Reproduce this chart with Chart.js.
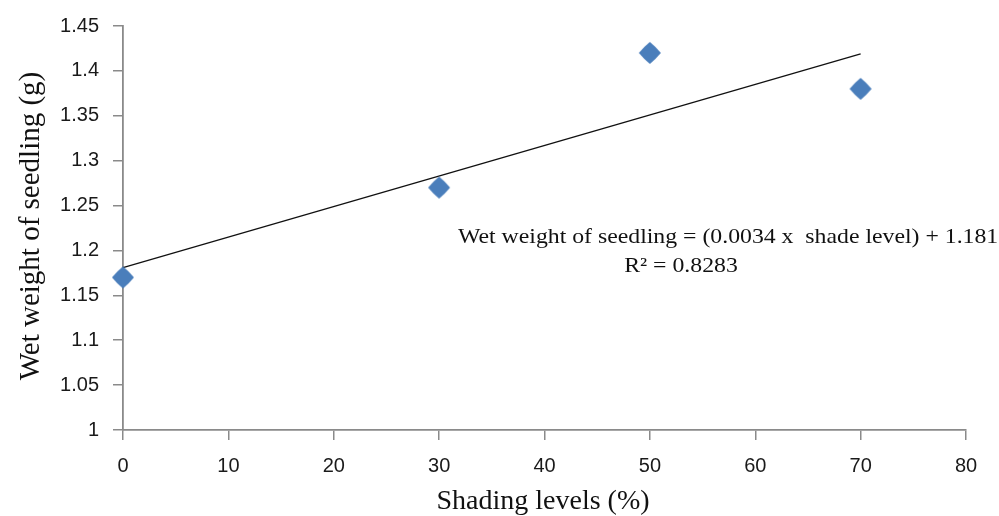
<!DOCTYPE html>
<html>
<head>
<meta charset="utf-8">
<script src="https://cdn.jsdelivr.net/npm/chart.js@4.4.1/dist/chart.umd.min.js"></script>
<style>
  html, body { margin: 0; padding: 0; background: #fff; }
  #wrap { width: 999px; height: 516px; position: relative; }
</style>
</head>
<body>
<div id="wrap"><canvas id="c"></canvas></div>
<script>
// --- DATA ---
const shadeLevels = [0, 30, 50, 70];
const wetWeight = [1.17, 1.27, 1.42, 1.38];
const trendX = [0, 70];
const trendSlope = 0.0034;
const trendIntercept = 1.181;
const equationText = 'Wet weight of seedling = (0.0034 x  shade level) + 1.181';
const r2Text = 'R\u00B2 = 0.8283';
const xTitle = 'Shading levels (%)';
const yTitle = 'Wet weight of seedling (g)';

const AXIS_GRAY = '#8a8a8a';
const SERIF = '"Liberation Serif", "Times New Roman", serif';

// Diamond marker with softly rounded sides, like the Excel one
function makeDiamond(r, color) {
    const c = document.createElement('canvas');
    c.width = c.height = r * 2 + 2;
    const g = c.getContext('2d');
    const m = r + 1;
    g.fillStyle = color;
    g.beginPath();
    g.moveTo(m, m - r);
    g.quadraticCurveTo(m + r * 0.55, m - r * 0.55, m + r, m);
    g.quadraticCurveTo(m + r * 0.55, m + r * 0.55, m, m + r);
    g.quadraticCurveTo(m - r * 0.55, m + r * 0.55, m - r, m);
    g.quadraticCurveTo(m - r * 0.55, m - r * 0.55, m, m - r);
    g.closePath();
    g.fill();
    return c;
}

// Text overlay (axis titles + regression note)
const textPlugin = {
    id: 'texts',
    afterDraw(chart) {
        const ctx = chart.ctx;
        ctx.save();
        ctx.fillStyle = '#111';
        ctx.textAlign = 'center';
        ctx.textBaseline = 'middle';
        ctx.font = '28px ' + SERIF;
        ctx.fillText(xTitle, 543, 502);

        ctx.font = '29px ' + SERIF;
        ctx.translate(31, 226);
        ctx.rotate(-Math.PI / 2);
        ctx.fillText(yTitle, 0, 0);
        ctx.restore();

        ctx.save();
        ctx.fillStyle = '#111';
        ctx.font = '22px ' + SERIF;
        ctx.textBaseline = 'middle';
        ctx.translate(458, 0);
        ctx.scale(1.08, 1);
        ctx.textAlign = 'left';
        ctx.fillText(equationText, 0, 237);
        ctx.textAlign = 'center';
        ctx.fillText(r2Text, (681 - 458) / 1.08, 266);
        ctx.restore();
    }
};

const tickFont = { family: '"Liberation Sans", Arial, sans-serif', size: 20 };

new Chart(document.getElementById('c'), {
    type: 'scatter',
    data: {
        datasets: [
            {
                label: 'Wet weight',
                data: shadeLevels.map((x, i) => ({ x: x, y: wetWeight[i] })),
                pointStyle: makeDiamond(11, '#4a7ebb'),
                pointRadius: 11,
                pointHoverRadius: 11,
                backgroundColor: '#4a7ebb',
                borderColor: '#4a7ebb',
                clip: false,
                order: 1
            },
            {
                type: 'line',
                label: 'Trend',
                data: trendX.map(x => ({ x: x, y: trendIntercept + trendSlope * x })),
                borderColor: '#111',
                borderWidth: 1.3,
                pointRadius: 0,
                fill: false,
                clip: false,
                order: 2
            }
        ]
    },
    options: {
        responsive: true,
        maintainAspectRatio: false,
        animation: false,
        layout: { padding: { top: 24, right: 33, left: 0, bottom: 0 } },
        plugins: { legend: { display: false }, tooltip: { enabled: false } },
        scales: {
            x: {
                type: 'linear',
                min: 0, max: 80,
                ticks: { stepSize: 10, color: '#1a1a1a', padding: 14, font: tickFont },
                grid: { drawOnChartArea: false, color: AXIS_GRAY, tickLength: 10, tickColor: AXIS_GRAY, lineWidth: 1.5 },
                border: { color: AXIS_GRAY, width: 1.8 },
                afterFit(scale) { scale.height = 86; }
            },
            y: {
                type: 'linear',
                min: 1, max: 1.45,
                ticks: {
                    stepSize: 0.05, color: '#1a1a1a', padding: 14, font: tickFont,
                    callback: v => parseFloat(v.toFixed(2)).toString()
                },
                grid: { drawOnChartArea: false, color: AXIS_GRAY, tickLength: 10, tickColor: AXIS_GRAY, lineWidth: 1.5 },
                border: { color: AXIS_GRAY, width: 1.8 },
                afterFit(scale) { scale.width = 123; }
            }
        }
    },
    plugins: [textPlugin]
});
</script>
</body>
</html>
